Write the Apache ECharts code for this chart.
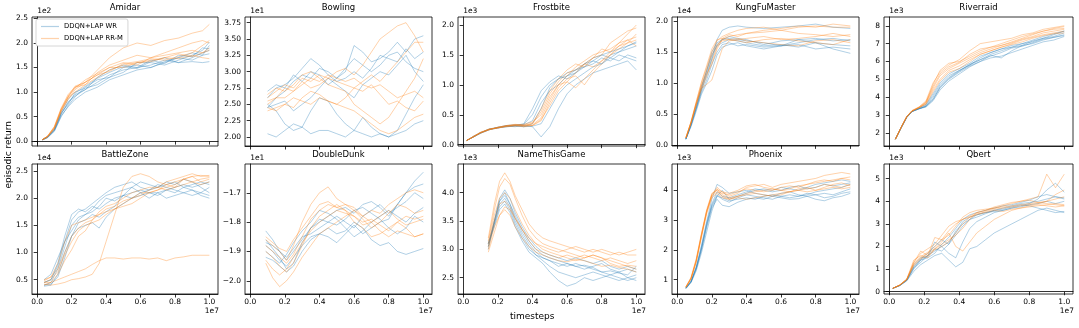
<!DOCTYPE html>
<html>
<head>
<meta charset="utf-8">
<script src="https://cdn.jsdelivr.net/npm/echarts@6/dist/echarts.min.js"></script>
<style>
  html, body { margin: 0; padding: 0; background: #fff; }
  #main { width: 1079px; height: 328px; }
</style>
</head>
<body>
<div id="main"></div>
<script>
// 各游戏名 + 坐标刻度
var games = ['Amidar', 'Bowling', 'Frostbite', 'KungFuMaster', 'Riverraid',
             'BattleZone', 'DoubleDunk', 'NameThisGame', 'Phoenix', 'Qbert'];
var xTicks = [0, 0.2, 0.4, 0.6, 0.8, 1.0];
var yExp = ['1e2', '1e1', '1e3', '1e4', '1e3', '1e4', '1e1', '1e3', '1e3', '1e3'];
var yTicks = [
  [0, 0.5, 1.0, 1.5, 2.0, 2.5],
  [2.0, 2.25, 2.5, 2.75, 3.0, 3.25, 3.5, 3.75],
  [0, 0.5, 1.0, 1.5, 2.0],
  [0, 0.5, 1.0, 1.5, 2.0],
  [2, 3, 4, 5, 6, 7, 8],
  [0.5, 1.0, 1.5, 2.0, 2.5],
  [-2.0, -1.9, -1.8, -1.7],
  [2.5, 3.0, 3.5, 4.0],
  [1, 2, 3, 4],
  [0, 1, 2, 3, 4, 5]
];
var yDigits = [1, 2, 1, 1, 0, 1, 1, 1, 0, 0];
var yRange = [
  [-0.1, 2.53], [1.862, 3.837], [-0.022, 2.134], [-0.01, 2.064], [1.27, 8.49],
  [0.237, 2.629], [-2.045, -1.602], [2.212, 4.506], [0.52, 4.884], [-0.1, 5.65]
];

// x (单位 1e7)
var xAmidar = [0.03,0.06,0.1,0.14,0.18,0.22,0.28,0.35,0.42,0.5,0.58,0.66,0.74,0.82,0.9,0.96,1.0];
var wrAmidar = [
  [0.03,0.08,0.22,0.55,0.78,0.95,1.05,1.2,1.35,1.45,1.5,1.55,1.65,1.6,1.7,1.8,1.85],
  [0.02,0.07,0.2,0.5,0.72,0.9,1.1,1.25,1.3,1.5,1.55,1.5,1.6,1.7,1.65,1.75,1.95],
  [0.03,0.09,0.25,0.6,0.85,1.0,1.08,1.15,1.3,1.4,1.6,1.6,1.55,1.65,1.75,1.85,2.02],
  [0.03,0.08,0.24,0.58,0.75,0.98,1.12,1.28,1.4,1.52,1.48,1.62,1.7,1.6,1.62,1.6,1.62],
  [0.02,0.07,0.21,0.52,0.7,0.85,1.0,1.1,1.25,1.35,1.45,1.5,1.62,1.7,1.8,1.75,1.78],
  [0.03,0.08,0.23,0.56,0.8,0.92,1.05,1.3,1.45,1.55,1.5,1.65,1.58,1.75,1.72,1.9,1.88]
];
var rrAmidar = [
  [0.03,0.1,0.28,0.65,0.9,1.1,1.2,1.45,1.7,1.9,2.0,1.95,2.05,2.1,2.2,2.25,2.38],
  [0.03,0.09,0.26,0.6,0.85,1.05,1.2,1.35,1.5,1.6,1.55,1.7,1.75,1.8,1.85,1.8,1.9],
  [0.03,0.1,0.3,0.68,0.95,1.1,1.15,1.3,1.45,1.55,1.6,1.65,1.7,1.68,1.75,1.7,1.68],
  [0.02,0.08,0.25,0.62,0.88,1.0,1.15,1.4,1.55,1.65,1.75,1.7,1.8,1.9,2.0,2.05,2.0],
  [0.03,0.09,0.27,0.64,0.9,1.08,1.25,1.38,1.5,1.5,1.6,1.62,1.7,1.78,1.72,1.8,1.85],
  [0.03,0.1,0.29,0.66,0.92,1.12,1.2,1.35,1.42,1.58,1.62,1.68,1.65,1.72,1.8,1.95,2.05]
];

var xBowling = [0.1,0.15,0.2,0.25,0.3,0.35,0.4,0.45,0.5,0.55,0.6,0.65,0.7,0.75,0.8,0.85,0.9,0.95,1.0];
var wrBowling = [
  [2.45,2.6,2.7,2.85,2.95,2.9,3.05,3.0,2.9,3.0,3.4,3.3,3.15,3.2,3.3,3.45,3.3,3.5,3.55],
  [2.05,2.0,2.1,2.2,2.15,2.05,2.1,2.1,2.05,2.0,2.1,2.05,2.0,2.05,2.0,2.05,2.1,2.2,2.25],
  [2.6,2.75,2.8,2.9,3.05,3.2,3.1,2.95,2.85,2.9,3.0,2.9,3.05,3.25,3.2,3.15,3.35,3.2,3.3],
  [2.45,2.5,2.55,2.4,2.5,2.6,2.75,2.9,2.8,2.7,2.6,2.8,2.9,3.0,2.95,3.1,3.25,3.0,2.85],
  [2.5,2.4,2.2,2.1,2.15,2.4,2.6,2.55,2.35,2.2,2.1,2.3,2.15,2.05,2.0,2.1,2.35,2.6,2.8],
  [2.7,2.8,2.75,2.95,2.85,3.0,2.95,2.8,2.9,3.05,3.2,3.1,3.0,3.1,3.25,3.3,3.15,3.05,3.0]
];
var rrBowling = [
  [2.6,2.7,2.8,2.75,2.9,2.85,2.95,2.9,3.0,3.05,2.95,3.1,3.3,3.5,3.6,3.7,3.75,3.55,3.3],
  [2.4,2.45,2.5,2.6,2.55,2.5,2.6,2.55,2.5,2.45,2.4,2.3,2.2,2.1,2.05,2.1,2.2,2.3,2.35],
  [2.55,2.6,2.75,2.7,2.8,2.9,2.85,2.95,2.9,2.85,2.9,2.8,2.75,2.8,2.7,2.6,2.65,2.7,2.6],
  [2.65,2.75,2.7,2.8,2.95,3.0,2.9,2.8,2.75,2.7,2.5,2.4,2.3,2.2,2.3,2.5,2.7,2.9,3.2],
  [2.45,2.4,2.5,2.45,2.6,2.7,2.65,2.55,2.5,2.6,2.75,2.85,2.95,2.85,3.0,3.15,3.3,3.45,3.45],
  [2.5,2.6,2.6,2.7,2.85,2.75,2.8,2.9,2.85,2.8,2.75,2.7,2.8,2.65,2.5,2.55,2.45,2.4,2.55]
];

var xFrostbite = [0.02,0.06,0.1,0.15,0.2,0.25,0.3,0.35,0.4,0.45,0.5,0.55,0.6,0.65,0.7,0.75,0.8,0.85,0.9,0.95,1.0];
var wrFrostbite = [
  [0.07,0.13,0.19,0.25,0.28,0.3,0.31,0.3,0.35,0.6,0.95,1.1,1.15,1.2,1.3,1.35,1.45,1.4,1.5,1.45,1.4],
  [0.07,0.13,0.2,0.26,0.29,0.32,0.33,0.32,0.3,0.13,0.3,0.6,0.85,1.0,1.1,1.2,1.25,1.3,1.35,1.4,1.25],
  [0.07,0.14,0.2,0.25,0.28,0.3,0.32,0.35,0.6,0.9,1.05,1.15,1.1,1.2,1.35,1.45,1.5,1.45,1.55,1.65,1.7],
  [0.07,0.13,0.19,0.25,0.29,0.31,0.3,0.33,0.4,0.7,0.9,1.0,1.15,1.25,1.3,1.4,1.35,1.5,1.55,1.6,1.65],
  [0.07,0.13,0.2,0.26,0.28,0.31,0.32,0.3,0.31,0.35,0.6,0.85,1.0,1.1,1.2,1.3,1.35,1.45,1.4,1.5,1.45],
  [0.07,0.14,0.2,0.26,0.29,0.32,0.33,0.34,0.5,0.8,1.0,1.1,1.2,1.25,1.35,1.4,1.5,1.55,1.6,1.65,1.72]
];
var rrFrostbite = [
  [0.07,0.13,0.2,0.25,0.28,0.31,0.33,0.32,0.35,0.55,0.85,1.05,1.2,1.25,1.35,1.45,1.5,1.7,1.8,1.9,1.95],
  [0.07,0.14,0.2,0.26,0.29,0.32,0.34,0.33,0.32,0.4,0.7,0.95,1.1,1.15,1.0,1.2,1.35,1.5,1.65,1.75,1.8],
  [0.07,0.13,0.19,0.25,0.29,0.31,0.32,0.31,0.33,0.45,0.75,1.0,1.15,1.3,1.4,1.5,1.55,1.6,1.7,1.75,1.65],
  [0.07,0.14,0.21,0.26,0.28,0.3,0.31,0.32,0.36,0.6,0.9,1.1,1.25,1.35,1.3,1.45,1.6,1.55,1.7,1.85,2.0],
  [0.07,0.13,0.2,0.25,0.29,0.32,0.33,0.3,0.32,0.42,0.65,0.9,1.05,1.2,1.35,1.3,1.4,1.5,1.6,1.7,1.75],
  [0.07,0.14,0.2,0.26,0.28,0.31,0.33,0.34,0.38,0.5,0.8,1.0,1.05,0.95,1.1,1.25,1.4,1.55,1.65,1.7,1.85]
];

var xKungFu = [0.05,0.08,0.11,0.14,0.17,0.2,0.23,0.26,0.3,0.35,0.4,0.5,0.6,0.7,0.8,0.9,1.0];
var wrKungFu = [
  [0.1,0.35,0.65,0.95,1.2,1.45,1.6,1.65,1.7,1.68,1.65,1.6,1.62,1.58,1.65,1.62,1.6],
  [0.1,0.33,0.6,0.9,1.15,1.4,1.7,1.85,1.9,1.92,1.9,1.88,1.9,1.92,1.95,1.9,1.88],
  [0.1,0.32,0.58,0.85,1.05,1.3,1.5,1.62,1.65,1.6,1.62,1.58,1.6,1.7,1.65,1.55,1.48],
  [0.1,0.34,0.62,0.92,1.2,1.5,1.65,1.7,1.72,1.7,1.68,1.65,1.6,1.65,1.7,1.72,1.68],
  [0.1,0.3,0.55,0.82,1.0,1.2,1.45,1.58,1.62,1.65,1.6,1.55,1.6,1.62,1.55,1.58,1.55],
  [0.1,0.33,0.6,0.88,1.12,1.38,1.62,1.7,1.75,1.72,1.7,1.62,1.68,1.7,1.72,1.68,1.7]
];
var rrKungFu = [
  [0.12,0.38,0.7,1.0,1.25,1.5,1.68,1.75,1.8,1.85,1.88,1.9,1.85,1.9,1.92,1.9,1.9],
  [0.12,0.36,0.66,0.95,1.15,1.3,1.55,1.7,1.75,1.78,1.8,1.82,1.85,1.8,1.78,1.75,1.78],
  [0.12,0.37,0.68,0.92,0.98,1.05,1.3,1.55,1.68,1.7,1.72,1.75,1.7,1.72,1.75,1.8,1.75],
  [0.12,0.38,0.7,1.02,1.28,1.55,1.7,1.72,1.7,1.72,1.68,1.65,1.62,1.6,1.68,1.7,1.65],
  [0.12,0.36,0.65,0.9,1.1,1.35,1.58,1.72,1.78,1.75,1.8,1.85,1.88,1.92,1.9,1.95,1.92],
  [0.12,0.37,0.67,0.96,1.2,1.45,1.62,1.68,1.7,1.68,1.65,1.7,1.72,1.68,1.65,1.62,1.7]
];

var xRiverraid = [0.035,0.07,0.1,0.13,0.17,0.21,0.25,0.29,0.34,0.4,0.46,0.52,0.58,0.64,0.7,0.76,0.82,0.88,0.94,1.0];
var wrRiverraid = [
  [1.65,2.35,2.9,3.2,3.35,3.5,4.0,4.6,5.1,5.5,5.8,6.1,6.4,6.6,6.8,6.9,7.0,7.2,7.35,7.5],
  [1.65,2.3,2.85,3.2,3.35,3.45,3.8,4.4,4.9,5.3,5.7,6.0,6.2,6.3,6.5,6.7,6.9,7.1,7.2,7.4],
  [1.65,2.35,2.9,3.22,3.4,3.6,4.2,4.8,5.3,5.6,5.9,6.3,6.5,6.7,6.9,7.0,7.1,7.3,7.5,7.7],
  [1.65,2.32,2.88,3.2,3.35,3.5,3.9,4.5,5.0,5.4,5.75,6.0,6.35,6.2,6.6,6.9,7.15,7.3,7.4,7.6],
  [1.65,2.35,2.9,3.2,3.38,3.55,4.1,4.7,5.2,5.5,5.8,6.2,6.5,6.7,6.8,7.0,7.2,7.4,7.55,7.7],
  [1.65,2.33,2.88,3.2,3.36,3.48,3.85,4.55,5.05,5.45,5.85,6.1,6.3,6.5,6.75,6.85,7.05,7.25,7.35,7.45]
];
var rrRiverraid = [
  [1.65,2.35,2.92,3.25,3.45,3.8,4.8,5.4,5.8,6.1,6.6,7.0,7.1,7.2,7.3,7.5,7.6,7.8,7.9,8.0],
  [1.65,2.35,2.9,3.22,3.4,3.7,4.5,5.2,5.6,5.9,6.2,6.5,6.7,6.9,7.1,7.3,7.5,7.7,7.85,7.95],
  [1.65,2.35,2.9,3.22,3.42,3.6,4.3,4.9,5.4,5.6,6.0,6.4,6.6,6.8,7.0,7.2,7.35,7.5,7.6,7.7],
  [1.65,2.36,2.92,3.25,3.45,3.75,4.6,5.3,5.7,5.95,6.4,6.7,6.8,7.0,7.2,7.4,7.55,7.7,7.8,7.85],
  [1.65,2.35,2.9,3.22,3.4,3.65,4.4,5.0,5.5,5.75,6.1,6.4,6.6,6.8,6.95,7.1,7.3,7.45,7.55,7.6],
  [1.65,2.35,2.92,3.24,3.44,3.7,4.7,5.5,5.9,6.0,6.3,6.6,6.8,6.9,7.05,7.25,7.4,7.6,7.7,7.8]
];

var xBattle = [0.04,0.08,0.12,0.16,0.2,0.24,0.28,0.32,0.36,0.4,0.45,0.5,0.55,0.6,0.65,0.7,0.75,0.8,0.85,0.9,0.95,1.0];
var wrBattle = [
  [0.45,0.5,0.8,1.3,1.7,1.8,1.75,1.85,1.8,1.9,2.0,2.05,2.1,2.15,2.1,2.05,2.15,2.2,2.25,2.2,2.25,2.3],
  [0.4,0.45,0.7,1.1,1.5,1.65,1.7,1.8,1.95,2.05,2.1,2.15,2.2,2.1,2.0,2.1,2.15,2.1,2.2,2.15,2.05,2.0],
  [0.5,0.6,0.9,1.2,1.4,1.6,1.7,1.75,1.85,2.0,1.95,2.05,2.0,2.1,2.15,2.2,2.25,2.3,2.2,2.25,2.3,2.25],
  [0.4,0.42,0.55,0.9,1.3,1.55,1.6,1.7,1.65,1.75,1.85,2.05,2.2,2.3,2.25,2.2,2.3,2.25,2.35,2.3,2.2,2.1],
  [0.45,0.5,0.75,1.2,1.6,1.75,1.8,1.9,2.0,2.1,2.2,2.25,2.3,2.2,2.15,2.25,2.2,2.15,2.1,2.05,2.1,2.2],
  [0.38,0.4,0.6,1.0,1.3,1.45,1.5,1.55,1.45,1.65,1.8,1.9,2.0,2.05,2.1,2.1,2.0,2.05,2.1,2.15,2.1,2.05]
];
var rrBattle = [
  [0.45,0.45,0.5,0.55,0.6,0.65,0.7,0.78,0.85,0.9,0.9,0.88,0.9,0.9,0.88,0.9,0.85,0.9,0.92,0.95,0.95,0.95],
  [0.42,0.4,0.42,0.45,0.5,0.52,0.55,0.6,0.8,1.2,1.7,2.2,2.4,2.45,2.4,2.3,2.25,2.2,2.35,2.4,2.3,2.35],
  [0.5,0.55,0.7,1.0,1.3,1.45,1.55,1.6,1.75,1.85,1.9,2.0,2.1,2.15,2.2,2.2,2.3,2.35,2.4,2.45,2.4,2.42],
  [0.45,0.5,0.65,0.95,1.2,1.4,1.5,1.55,1.6,1.7,1.8,1.85,1.9,2.0,2.1,2.15,2.2,2.25,2.35,2.4,2.42,2.4],
  [0.48,0.55,0.8,1.2,1.5,1.55,1.6,1.65,1.7,1.8,1.85,1.95,2.0,2.05,2.15,2.2,2.15,2.2,2.25,2.3,2.35,2.38],
  [0.4,0.45,0.6,0.85,1.05,1.3,1.4,1.6,1.7,1.75,1.8,1.9,2.0,2.1,2.1,2.15,2.25,2.3,2.35,2.3,2.25,2.3]
];

var xDunk = [0.09,0.13,0.17,0.21,0.25,0.3,0.35,0.4,0.45,0.5,0.55,0.6,0.65,0.7,0.75,0.8,0.85,0.9,0.95,1.0];
var wrDunk = [
  [-1.83,-1.86,-1.9,-1.93,-1.9,-1.86,-1.82,-1.8,-1.78,-1.76,-1.75,-1.77,-1.74,-1.73,-1.75,-1.78,-1.74,-1.7,-1.66,-1.63],
  [-1.88,-1.9,-1.93,-1.95,-1.92,-1.88,-1.85,-1.84,-1.82,-1.84,-1.83,-1.8,-1.82,-1.86,-1.88,-1.87,-1.9,-1.91,-1.9,-1.89],
  [-1.86,-1.89,-1.92,-1.96,-1.94,-1.87,-1.82,-1.79,-1.8,-1.78,-1.8,-1.82,-1.78,-1.76,-1.74,-1.77,-1.75,-1.73,-1.7,-1.72],
  [-1.9,-1.92,-1.94,-1.91,-1.87,-1.83,-1.8,-1.76,-1.77,-1.79,-1.82,-1.85,-1.83,-1.8,-1.78,-1.76,-1.78,-1.8,-1.77,-1.75],
  [-1.92,-1.93,-1.95,-1.97,-1.95,-1.9,-1.86,-1.84,-1.85,-1.87,-1.84,-1.81,-1.84,-1.82,-1.8,-1.79,-1.74,-1.7,-1.68,-1.67],
  [-1.87,-1.88,-1.9,-1.92,-1.89,-1.85,-1.84,-1.82,-1.8,-1.81,-1.79,-1.76,-1.75,-1.77,-1.79,-1.82,-1.84,-1.82,-1.78,-1.8]
];
var rrDunk = [
  [-1.86,-1.88,-1.9,-1.93,-1.88,-1.8,-1.74,-1.7,-1.68,-1.72,-1.74,-1.75,-1.78,-1.76,-1.77,-1.74,-1.72,-1.7,-1.69,-1.7],
  [-1.94,-1.99,-2.02,-2.0,-1.97,-1.92,-1.88,-1.84,-1.82,-1.8,-1.78,-1.76,-1.78,-1.8,-1.83,-1.85,-1.83,-1.84,-1.85,-1.84],
  [-1.85,-1.87,-1.89,-1.9,-1.86,-1.82,-1.78,-1.74,-1.73,-1.75,-1.76,-1.78,-1.8,-1.79,-1.81,-1.83,-1.8,-1.78,-1.79,-1.78],
  [-1.9,-1.92,-1.95,-1.97,-1.94,-1.88,-1.82,-1.78,-1.76,-1.74,-1.76,-1.8,-1.82,-1.85,-1.84,-1.82,-1.8,-1.82,-1.85,-1.84],
  [-1.88,-1.9,-1.92,-1.94,-1.91,-1.85,-1.79,-1.76,-1.74,-1.75,-1.74,-1.76,-1.79,-1.82,-1.8,-1.77,-1.74,-1.75,-1.77,-1.76],
  [-1.93,-1.96,-1.98,-1.96,-1.92,-1.87,-1.83,-1.8,-1.78,-1.76,-1.77,-1.78,-1.81,-1.8,-1.78,-1.76,-1.79,-1.81,-1.8,-1.79]
];

var xName = [0.145,0.18,0.21,0.24,0.27,0.3,0.34,0.38,0.42,0.46,0.5,0.55,0.6,0.65,0.7,0.75,0.8,0.85,0.9,0.95,1.0];
var wrName = [
  [3.05,3.5,3.85,4.0,3.8,3.55,3.3,3.1,2.95,2.85,2.8,2.75,2.7,2.75,2.7,2.65,2.6,2.55,2.6,2.5,2.45],
  [3.1,3.45,3.75,3.85,3.7,3.45,3.2,3.0,2.9,2.8,2.7,2.6,2.55,2.5,2.55,2.6,2.55,2.5,2.45,2.5,2.55],
  [3.0,3.5,3.9,4.05,3.9,3.65,3.4,3.2,3.05,2.95,2.9,2.85,2.8,2.85,2.8,2.75,2.8,2.7,2.65,2.7,2.65],
  [3.1,3.4,3.7,3.8,3.65,3.4,3.15,2.95,2.85,2.75,2.6,2.45,2.35,2.4,2.5,2.45,2.5,2.55,2.5,2.45,2.5],
  [3.05,3.45,3.8,3.9,3.75,3.5,3.25,3.05,2.9,2.85,2.8,2.7,2.75,2.7,2.65,2.7,2.75,2.65,2.6,2.65,2.6],
  [3.1,3.5,3.85,3.95,3.8,3.6,3.35,3.15,3.0,2.9,2.85,2.8,2.75,2.7,2.72,2.68,2.6,2.62,2.58,2.55,2.7]
];
var rrName = [
  [3.2,3.8,4.2,4.35,4.2,3.95,3.7,3.45,3.3,3.2,3.15,3.1,3.05,3.0,2.95,3.0,2.95,2.9,2.95,2.9,2.9],
  [3.15,3.7,4.1,4.25,4.15,3.9,3.6,3.35,3.2,3.1,3.05,3.0,2.95,2.9,2.85,2.9,2.85,2.8,2.75,2.7,2.65],
  [3.0,3.4,3.6,3.7,3.6,3.4,3.2,3.05,2.95,2.9,2.85,2.8,2.78,2.82,2.8,2.75,2.7,2.72,2.68,2.65,2.6],
  [3.1,3.6,3.9,4.0,3.9,3.7,3.45,3.25,3.1,3.05,3.0,2.95,3.0,3.05,3.0,2.95,3.0,2.95,2.9,2.95,3.0],
  [3.05,3.5,3.8,3.85,3.75,3.55,3.35,3.15,3.0,2.95,2.9,2.85,2.9,2.85,2.9,2.85,2.8,2.85,2.8,2.75,2.8],
  [2.95,3.3,3.6,3.75,3.7,3.55,3.35,3.2,3.1,3.0,2.95,2.9,2.85,2.8,2.85,2.9,2.85,2.75,2.7,2.72,2.7]
];

var xPhoenix = [0.05,0.08,0.11,0.14,0.17,0.2,0.23,0.26,0.3,0.35,0.4,0.45,0.5,0.55,0.6,0.65,0.7,0.75,0.8,0.85,0.9,0.95,1.0];
var wrPhoenix = [
  [0.72,0.95,1.4,2.1,2.9,3.5,3.85,3.7,3.6,3.75,3.85,3.8,3.75,3.7,3.8,3.85,3.8,3.9,3.85,3.75,3.8,3.9,3.95],
  [0.7,0.9,1.3,1.9,2.6,3.3,3.8,4.0,3.7,3.8,3.9,4.0,4.05,4.0,4.1,4.05,4.0,4.1,4.2,4.25,4.3,4.35,4.3],
  [0.73,0.95,1.45,2.15,2.95,3.7,4.2,4.1,3.9,3.95,4.0,3.9,3.85,3.8,3.75,3.7,3.72,3.8,3.85,3.9,3.85,3.95,4.05],
  [0.7,0.92,1.35,2.0,2.75,3.4,3.7,3.5,3.45,3.6,3.7,3.75,3.7,3.8,3.9,3.95,3.85,3.8,3.7,3.65,3.75,3.8,3.9],
  [0.72,0.94,1.4,2.05,2.85,3.55,3.95,3.8,3.75,3.85,3.95,4.05,4.0,3.95,4.0,4.1,4.15,4.05,4.1,4.2,4.15,4.2,4.25],
  [0.71,0.93,1.38,2.02,2.8,3.45,3.8,3.75,3.65,3.7,3.75,3.7,3.8,3.85,3.8,3.75,3.8,3.85,3.95,4.0,4.05,4.1,4.2]
];
var rrPhoenix = [
  [0.75,1.05,1.65,2.5,3.3,3.85,4.1,3.95,3.8,3.9,4.1,4.15,4.2,4.1,4.2,4.25,4.3,4.35,4.4,4.5,4.55,4.6,4.55],
  [0.76,1.08,1.7,2.55,3.35,3.9,4.0,3.8,3.7,3.75,3.7,3.75,3.8,3.85,3.9,3.95,4.0,4.05,4.1,4.2,4.15,4.1,4.2],
  [0.74,1.02,1.6,2.45,3.25,3.8,3.95,3.9,3.85,3.95,4.05,4.0,3.95,4.0,4.1,4.15,4.1,4.2,4.25,4.3,4.35,4.4,4.45],
  [0.76,1.06,1.68,2.52,3.3,3.85,4.05,3.85,3.75,3.8,3.85,3.9,3.85,3.8,3.85,3.95,4.0,3.95,4.0,4.05,4.1,4.05,4.1],
  [0.75,1.04,1.62,2.48,3.28,3.82,4.02,3.95,3.9,4.0,4.15,4.2,4.1,4.05,4.0,4.05,4.15,4.2,4.3,4.35,4.3,4.4,4.35],
  [0.74,1.03,1.6,2.42,3.2,3.75,3.9,3.75,3.7,3.8,3.9,3.95,4.0,4.05,4.0,3.95,4.05,4.1,4.0,4.1,4.2,4.25,4.15]
];

var xQbert = [0.02,0.06,0.1,0.14,0.18,0.22,0.26,0.3,0.34,0.38,0.42,0.46,0.5,0.55,0.6,0.65,0.7,0.75,0.8,0.85,0.9,0.95,1.0];
var wrQbert = [
  [0.15,0.28,0.5,1.0,1.4,1.6,1.8,2.0,2.2,2.6,3.1,3.3,3.4,3.5,3.6,3.7,3.8,3.9,3.95,4.0,4.1,4.2,4.15],
  [0.15,0.27,0.48,0.9,1.2,1.4,1.6,1.7,1.4,1.1,1.3,1.9,2.0,2.3,2.6,2.8,3.0,3.2,3.4,3.6,3.7,3.6,3.5],
  [0.15,0.28,0.52,1.1,1.45,1.7,2.0,2.3,2.1,2.5,2.9,3.2,3.4,3.5,3.55,3.6,3.7,3.8,3.9,4.1,4.5,4.8,4.4],
  [0.15,0.29,0.55,1.2,1.5,1.55,2.2,2.0,1.7,1.5,2.2,2.8,3.1,3.3,3.5,3.6,3.7,3.75,3.85,3.9,4.0,3.9,4.0],
  [0.15,0.27,0.5,1.05,1.3,1.6,1.9,1.8,2.1,2.7,3.0,3.2,3.3,3.45,3.6,3.65,3.75,3.85,3.8,3.7,3.6,3.5,3.55],
  [0.15,0.28,0.51,1.1,1.4,1.5,1.7,2.1,2.4,2.8,3.2,3.4,3.5,3.6,3.7,3.8,3.85,3.95,4.05,4.2,4.3,4.2,4.1]
];
var rrQbert = [
  [0.15,0.3,0.55,1.3,1.8,1.6,2.4,2.3,2.5,2.9,3.3,3.5,3.6,3.65,3.7,3.8,3.9,4.0,4.1,4.2,5.2,4.6,5.2],
  [0.15,0.29,0.53,1.2,1.5,1.7,1.9,2.1,2.3,2.5,2.8,3.2,3.5,3.6,3.7,3.75,3.8,3.85,3.9,3.95,3.9,3.85,3.8],
  [0.15,0.3,0.56,1.4,1.6,1.5,1.9,2.2,2.6,2.0,1.8,2.2,2.6,2.9,3.2,3.4,3.6,3.7,3.75,3.8,3.85,3.9,3.85],
  [0.15,0.29,0.54,1.25,1.55,1.75,2.0,2.3,2.7,3.0,3.2,3.35,3.5,3.6,3.75,3.85,3.95,4.0,4.05,3.95,4.0,4.1,4.2],
  [0.15,0.3,0.55,1.3,1.7,1.9,2.1,2.5,2.9,3.1,3.2,3.3,3.4,3.55,3.65,3.7,3.75,3.8,3.85,3.9,4.0,4.3,4.5],
  [0.15,0.28,0.52,1.15,1.45,1.6,1.85,2.0,2.2,2.6,3.0,3.3,3.45,3.5,3.6,3.55,3.65,3.7,3.8,3.85,3.8,3.75,3.8]
];

var xs = [xAmidar, xBowling, xFrostbite, xKungFu, xRiverraid, xBattle, xDunk, xName, xPhoenix, xQbert];
var wr = [wrAmidar, wrBowling, wrFrostbite, wrKungFu, wrRiverraid, wrBattle, wrDunk, wrName, wrPhoenix, wrQbert];
var rr = [rrAmidar, rrBowling, rrFrostbite, rrKungFu, rrRiverraid, rrBattle, rrDunk, rrName, rrPhoenix, rrQbert];

var WR = 'DDQN+LAP WR', RR = 'DDQN+LAP RR-M';
var blue = 'rgba(31,119,180,0.35)', orange = 'rgba(255,127,14,0.35)';

// 布局
var lefts = [32, 245, 458, 672, 884];
var rights = [218, 432, 645, 859, 1073];
var tops = [17, 164];
var bottoms = [146, 294];

function fmt(v, d) {
  return v.toFixed(d).replace('-', '\u2212');
}

var grids = [], xAxes = [], yAxes = [], titles = [], series = [], graphics = [];
for (var i = 0; i < 10; i++) {
  var r = Math.floor(i / 5), c = i % 5;
  grids.push({
    left: lefts[c], top: tops[r],
    width: rights[c] - lefts[c], height: bottoms[r] - tops[r],
    show: true, borderColor: '#000', borderWidth: 0.8, backgroundColor: 'transparent'
  });
  xAxes.push({
    type: 'value', gridIndex: i, min: -0.03, max: 1.05,
    splitLine: { show: false },
    axisLine: { lineStyle: { color: '#000', width: 0.8 } },
    axisTick: { length: 3.5, lineStyle: { color: '#000', width: 0.8 }, customValues: xTicks },
    axisLabel: {
      show: r === 1, customValues: xTicks, margin: 4, fontSize: 7.5, color: '#000',
      fontFamily: 'DejaVu Sans', formatter: function (v) { return v.toFixed(1); }
    }
  });
  (function (d) {
    yAxes.push({
      type: 'value', gridIndex: i, min: yRange[i][0], max: yRange[i][1],
      name: yExp[i], nameLocation: 'end', nameGap: 2,
      nameTextStyle: { fontSize: 7.5, color: '#000', fontFamily: 'DejaVu Sans', align: 'left', verticalAlign: 'bottom' },
      splitLine: { show: false },
      axisLine: { lineStyle: { color: '#000', width: 0.8 } },
      axisTick: { length: 3.5, lineStyle: { color: '#000', width: 0.8 }, customValues: yTicks[i] },
      axisLabel: {
        customValues: yTicks[i], margin: 4, fontSize: 7.5, color: '#000', fontFamily: 'DejaVu Sans',
        formatter: function (v) { return fmt(v, d); }
      }
    });
  })(yDigits[i]);
  titles.push({
    text: games[i], left: (lefts[c] + rights[c]) / 2, top: r === 0 ? 3 : 150,
    textAlign: 'center', padding: 0,
    textStyle: { fontSize: 8.5, fontWeight: 'normal', color: '#000', fontFamily: 'DejaVu Sans' }
  });
  var groups = [[wr[i], WR, blue], [rr[i], RR, orange]];
  for (var g = 0; g < 2; g++) {
    for (var k = 0; k < groups[g][0].length; k++) {
      var ys = groups[g][0][k];
      var pts = [];
      for (var j = 0; j < ys.length; j++) pts.push([xs[i][j], ys[j]]);
      series.push({
        type: 'line', name: groups[g][1], xAxisIndex: i, yAxisIndex: i,
        data: pts, symbol: 'none', showSymbol: false, silent: true,
        color: groups[g][2],
        lineStyle: { width: 1, color: groups[g][2] }
      });
    }
  }
  if (r === 1) {
    graphics.push({
      type: 'text', right: 1079 - rights[c] - 1, top: 307,
      style: { text: '1e7', fontSize: 7.5, fill: '#000', fontFamily: 'DejaVu Sans' }
    });
  }
}

graphics.push({
  type: 'text', left: 4, top: 121, rotation: Math.PI / 2,
  style: { text: 'episodic return', fontSize: 9, fill: '#000', fontFamily: 'DejaVu Sans' }
});
graphics.push({
  type: 'text', left: 510, top: 312,
  style: { text: 'timesteps', fontSize: 9, fill: '#000', fontFamily: 'DejaVu Sans' }
});

var myChart = echarts.init(document.getElementById('main'));
var option = {
  animation: false,
  backgroundColor: '#fff',
  title: titles,
  grid: grids,
  xAxis: xAxes,
  yAxis: yAxes,
  legend: {
    data: [WR, RR], orient: 'vertical', left: 36, top: 19,
    icon: 'rect', itemWidth: 18, itemHeight: 1.2, itemGap: 5, padding: [4, 5],
    backgroundColor: '#fff', borderColor: '#ccc', borderWidth: 0.8, borderRadius: 2,
    textStyle: { fontSize: 6.8, color: '#000', fontFamily: 'DejaVu Sans' }
  },
  graphic: graphics,
  series: series
};
myChart.setOption(option);
</script>
</body>
</html>
